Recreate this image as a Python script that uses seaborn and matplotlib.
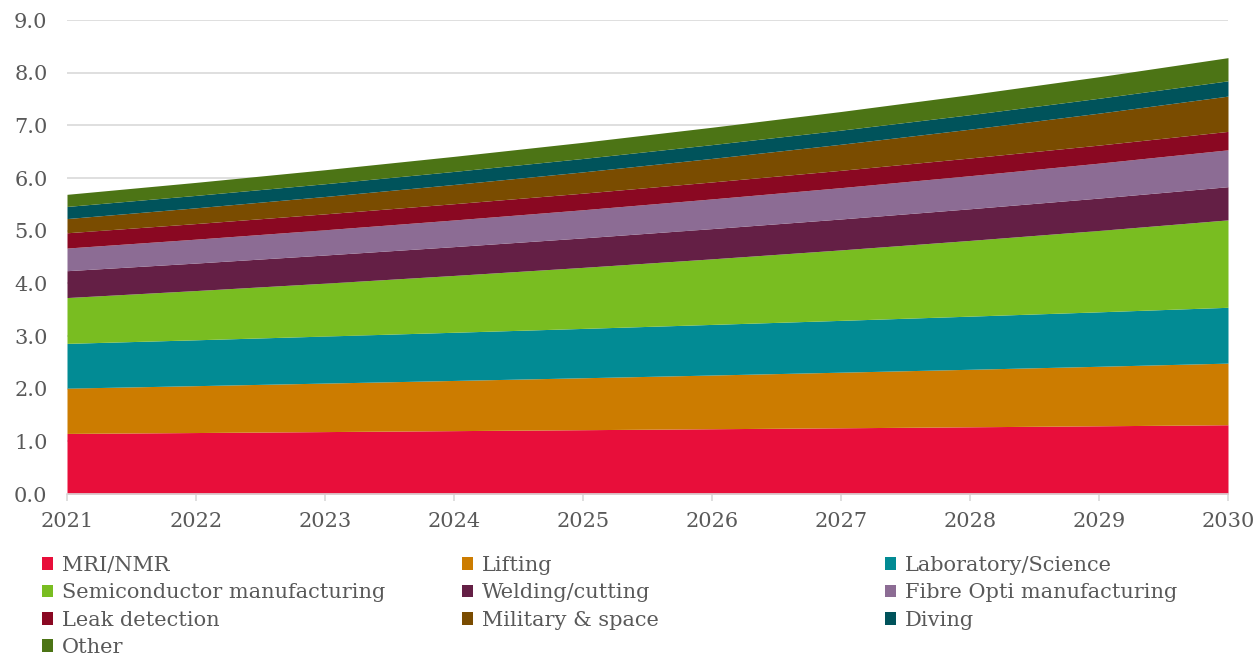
import matplotlib
matplotlib.use("Agg")
import matplotlib.pyplot as plt
from matplotlib.patches import Patch
import seaborn as sns
import pandas as pd

years = [2021, 2022, 2023, 2024, 2025, 2026, 2027, 2028, 2029, 2030]

mri = [1.150, 1.167, 1.185, 1.203, 1.221, 1.239, 1.257, 1.276, 1.295, 1.315]
lifting = [0.860, 0.890, 0.921, 0.953, 0.986, 1.020, 1.056, 1.092, 1.130, 1.170]
laboratory = [0.850, 0.871, 0.893, 0.915, 0.937, 0.961, 0.984, 1.009, 1.034, 1.060]
semiconductor = [0.870, 0.935, 1.004, 1.079, 1.159, 1.245, 1.338, 1.438, 1.545, 1.660]
welding = [0.510, 0.522, 0.535, 0.547, 0.560, 0.574, 0.587, 0.601, 0.615, 0.630]
fibre = [0.430, 0.454, 0.479, 0.506, 0.534, 0.564, 0.595, 0.628, 0.663, 0.700]
leak = [0.290, 0.296, 0.302, 0.309, 0.315, 0.322, 0.329, 0.336, 0.343, 0.350]
military = [0.270, 0.299, 0.330, 0.365, 0.404, 0.447, 0.495, 0.547, 0.606, 0.670]
diving = [0.230, 0.236, 0.242, 0.248, 0.255, 0.262, 0.268, 0.275, 0.283, 0.290]
other = [0.230, 0.247, 0.266, 0.286, 0.307, 0.330, 0.354, 0.381, 0.409, 0.440]

labels = ["MRI/NMR", "Lifting", "Laboratory/Science", "Semiconductor manufacturing",
          "Welding/cutting", "Fibre Opti manufacturing", "Leak detection",
          "Military & space", "Diving", "Other"]
colors = ["#E80E3A", "#CC7C00", "#028B94", "#79BD21", "#641F45",
          "#8C6C94", "#8A0822", "#7A4C00", "#00535B", "#4C7415"]
y_ticks = [0, 1, 2, 3, 4, 5, 6, 7, 8, 9]

df = pd.DataFrame({lab: s for lab, s in zip(labels, [mri, lifting, laboratory, semiconductor,
                                                      welding, fibre, leak, military, diving, other])},
                  index=years)

sns.set_theme(style="whitegrid")
plt.rcParams["font.family"] = ["DejaVu Serif"]
text_color = "#595959"

fig = plt.figure(figsize=(12.56, 6.55), dpi=100)
ax = fig.add_axes([67 / 1256, 1 - 494 / 655, (1228 - 67) / 1256, (494 - 20) / 655])

ax.stackplot(df.index, *[df[c].values for c in labels], colors=colors, linewidth=0)

ax.set_xlim(2021, 2030)
ax.set_ylim(0, 9)
ax.set_xticks(years)
ax.set_yticks(y_ticks)
ax.set_yticklabels([f"{v:.1f}" for v in y_ticks])
ax.grid(axis="y", color="#d9d9d9", linewidth=1.2)
ax.grid(axis="x", visible=False)
ax.set_axisbelow(True)
for side in ["top", "right", "left"]:
    ax.spines[side].set_visible(False)
ax.spines["bottom"].set_color("#d9d9d9")
ax.spines["bottom"].set_linewidth(1.2)
ax.tick_params(axis="y", length=0, pad=14, labelsize=15, labelcolor=text_color)
ax.tick_params(axis="x", bottom=True, length=5, width=1.2, color="#d9d9d9",
               pad=8, labelsize=15, labelcolor=text_color)

handles = [Patch(facecolor=c, edgecolor="none") for c in colors]
columns = [[0, 3, 6, 9], [1, 4, 7], [2, 5, 8]]
x_starts = [42, 462, 885]
for idx, x0 in zip(columns, x_starts):
    leg = fig.legend([handles[i] for i in idx], [labels[i] for i in idx],
                     loc="upper left", bbox_to_anchor=(x0 / 1256, 1 - 556 / 655),
                     frameon=False, fontsize=15, handlelength=0.55, handleheight=0.55,
                     handletextpad=0.4, labelspacing=0.4, borderpad=0, borderaxespad=0)
    for t in leg.get_texts():
        t.set_color(text_color)

fig.savefig("out.png", dpi=100)
